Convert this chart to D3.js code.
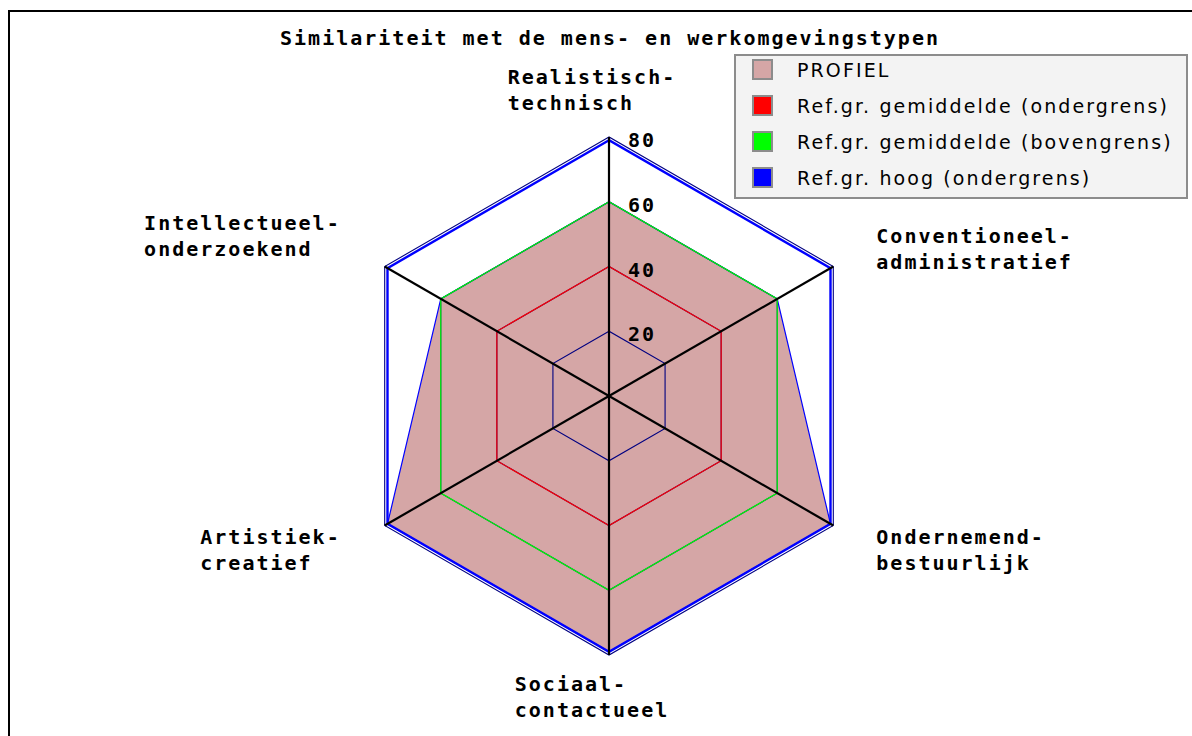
<!DOCTYPE html>
<html>
<head>
<meta charset="utf-8">
<script src="https://cdn.jsdelivr.net/npm/d3@7"></script>
<style>
  html, body { margin: 0; padding: 0; background: #fff; }
  svg { display: block; }
  .mono { font-family: "DejaVu Sans Mono", monospace; font-weight: bold; font-size: 20px; letter-spacing: 2px; }
  .leg { font-family: "DejaVu Sans", sans-serif; font-size: 19px; letter-spacing: 2.1px; }
</style>
</head>
<body>
<div id="chart"></div>
<script>
// Axis titles, RIASEC order (counter-clockwise from the top)
const categories = [
  ['Realistisch-', 'technisch'],
  ['Intellectueel-', 'onderzoekend'],
  ['Artistiek-', 'creatief'],
  ['Sociaal-', 'contactueel'],
  ['Ondernemend-', 'bestuurlijk'],
  ['Conventioneel-', 'administratief']
];
const profiel = [60, 60, 79, 79, 79, 60];
const refGemOnder = [40, 40, 40, 40, 40, 40];
const refGemBoven = [60, 60, 60, 60, 60, 60];
const refHoogOnder = [79, 79, 79, 79, 79, 79];
const tickValues = [20, 40, 60, 80];
const legendLabels = [
  'PROFIEL',
  'Ref.gr. gemiddelde (ondergrens)',
  'Ref.gr. gemiddelde (bovengrens)',
  'Ref.gr. hoog (ondergrens)'
];
const legendColors = ['#d5a6a6', '#ff0000', '#00ff00', '#0000ff'];
const title = 'Similariteit met de mens- en werkomgevingstypen';

const W = 1192, H = 736;
const cx = 609, cy = 396;
const maxValue = 80;

const svg = d3.select('#chart').append('svg')
  .attr('width', W)
  .attr('height', H);

// frame
svg.append('rect')
  .attr('x', 9).attr('y', 11)
  .attr('width', W + 20).attr('height', H + 20)
  .attr('fill', '#fff')
  .attr('stroke', '#000')
  .attr('stroke-width', 2);

svg.append('text')
  .attr('class', 'mono')
  .attr('x', cx + 1)
  .attr('y', 45)
  .attr('text-anchor', 'middle')
  .text(title);

const g = svg.append('g').attr('transform', `translate(${cx},${cy})`);

const r = d3.scaleLinear().domain([0, maxValue]).range([0, 259]);
const step = 2 * Math.PI / categories.length;
const angle = (i) => -i * step;

const radar = d3.lineRadial()
  .angle((d, i) => angle(i))
  .radius((d) => r(d))
  .curve(d3.curveLinearClosed);

// profile polygon
g.append('path')
  .attr('d', radar(profiel))
  .attr('fill', legendColors[0])
  .attr('stroke', '#0000ff')
  .attr('stroke-width', 1.2);

// grid
g.selectAll('.grid')
  .data(tickValues)
  .enter()
  .append('path')
  .attr('class', 'grid')
  .attr('d', (t) => radar(categories.map(() => t)))
  .attr('fill', 'none')
  .attr('stroke', '#000080')
  .attr('stroke-width', 1.1);

// reference lines
const refSeries = [
  { values: refGemOnder, color: legendColors[1], width: 1.2 },
  { values: refGemBoven, color: legendColors[2], width: 1.2 },
  { values: refHoogOnder, color: legendColors[3], width: 2.4 }
];
g.selectAll('.ref')
  .data(refSeries)
  .enter()
  .append('path')
  .attr('class', 'ref')
  .attr('d', (s) => radar(s.values))
  .attr('fill', 'none')
  .attr('stroke', (s) => s.color)
  .attr('stroke-width', (s) => s.width);

// axes
const pt = (i, v) => [Math.sin(angle(i)) * r(v), -Math.cos(angle(i)) * r(v)];
g.selectAll('.axis')
  .data(categories)
  .enter()
  .append('line')
  .attr('class', 'axis')
  .attr('x1', 0).attr('y1', 0)
  .attr('x2', (d, i) => pt(i, maxValue)[0])
  .attr('y2', (d, i) => pt(i, maxValue)[1])
  .attr('stroke', '#000')
  .attr('stroke-width', 2.2);

// tick labels on the first axis
g.selectAll('.tick')
  .data(tickValues)
  .enter()
  .append('text')
  .attr('class', 'mono')
  .attr('x', 19)
  .attr('y', (t) => -r(t) + 10)
  .text((t) => t);

// axis titles
const lineH = 26;
categories.forEach((lines, i) => {
  const [ex, ey] = pt(i, maxValue);
  const t = g.append('text').attr('class', 'mono');
  lines.forEach((s, k) => {
    t.append('tspan').attr('x', 0).attr('dy', k === 0 ? 0 : lineH).text(s);
  });
  const w = t.node().getBBox().width;
  let x, y0;
  if (Math.abs(ex) < 1) {
    x = ex - 17 - w / 2;
    y0 = ey < 0 ? ey - 27 - lineH * (lines.length - 1) : ey + 36;
  } else {
    x = ex > 0 ? ex + 43 : ex - 44 - w;
    y0 = ey < 0 ? ey + (ex > 0 ? 2 : -11) - lineH * (lines.length - 1) : ey + 18;
  }
  t.attr('transform', `translate(${x},${y0})`);
});

// legend
const legend = svg.append('g').attr('transform', 'translate(735,55)');
legend.append('rect')
  .attr('width', 452)
  .attr('height', 143)
  .attr('fill', '#f3f3f3')
  .attr('stroke', '#8c8c8c')
  .attr('stroke-width', 2);
const items = legend.selectAll('.item')
  .data(legendLabels)
  .enter()
  .append('g')
  .attr('class', 'item')
  .attr('transform', (d, i) => `translate(0,${14 + i * 36})`);
items.append('rect')
  .attr('x', 18).attr('y', -9)
  .attr('width', 19).attr('height', 19)
  .attr('fill', (d, i) => legendColors[i])
  .attr('stroke', '#8c8c8c')
  .attr('stroke-width', 2);
items.append('text')
  .attr('class', 'leg')
  .attr('x', 62)
  .attr('y', 8)
  .text((d) => d);
</script>
</body>
</html>
